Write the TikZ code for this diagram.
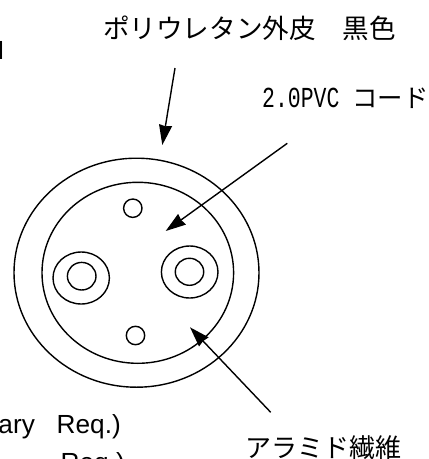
\documentclass[tikz,border=0pt]{standalone}
\usepackage{fontspec}
\setmainfont{Liberation Sans}
\newfontfamily\cjkfont{Noto Sans CJK JP}
\newfontfamily\latinmono[FakeStretch=0.74]{Liberation Mono}
\usetikzlibrary{arrows.meta}
\tikzset{
	wire/.style={line width=1.4pt},
	pointer/.style={line width=1.4pt,-{Stealth[length=20pt,width=13pt,inset=1pt]}},
	jplabel/.style={inner sep=0pt,anchor=west,font=\cjkfont\fontsize{26.6}{26.6}\selectfont},
	reqlabel/.style={inner sep=0pt,anchor=base east,font=\fontsize{26.2}{26.2}\selectfont},
}
\begin{document}
\begin{tikzpicture}[x=1pt,y=-1pt]
	\useasboundingbox(0,0)rectangle(429,459);
	
	\draw[wire](136.5,272.7)ellipse[x radius=122.5,y radius=114.5];
	\draw[wire](137.8,272.8)ellipse[x radius=95.8,y radius=90.5];
	\draw[wire](81.2,278)ellipse[x radius=28.2,y radius=26];
	\draw[wire](81.7,276.2)ellipse[x radius=14.3,y radius=13.8];
	\draw[wire](189.7,272)ellipse[x radius=28.3,y radius=26];
	\draw[wire](189.5,271.8)ellipse[x radius=14.2,y radius=13.5];
	\draw[wire](132.8,208.2)circle(9.2);
	\draw[wire](135.5,335.5)circle(9.2);
	
	\node[jplabel](sheath)at(103,28){ポリウレタン外皮　黒色};
	\node[jplabel,font=\cjkfont\fontsize{25.4}{25.4}\selectfont](cord)at(262,98){{\latinmono\fontsize{29}{29}\selectfont 2.0PVC }コード};
	\node[jplabel,font=\cjkfont\fontsize{26}{26}\selectfont](fiber)at(245,448){アラミド繊維};
	\node[reqlabel](req1)at(121,433){ary\ \ \ Req.)};
	\node[reqlabel](req2)at(125,471){Req.)};
	\node[reqlabel](stray)at(4.5,59){N};
	
	\coordinate(a1)at(175,68);
	\coordinate(b1)at(162.3,145);
	\coordinate(a2)at(287.3,143.3);
	\coordinate(b2)at(165.7,231);
	\coordinate(a3)at(270.7,412.3);
	\coordinate(b3)at(190,327.3);
	\foreach \x in{1,2,3}
	\draw[pointer](a\x)--(b\x);
\end{tikzpicture}
\end{document}
